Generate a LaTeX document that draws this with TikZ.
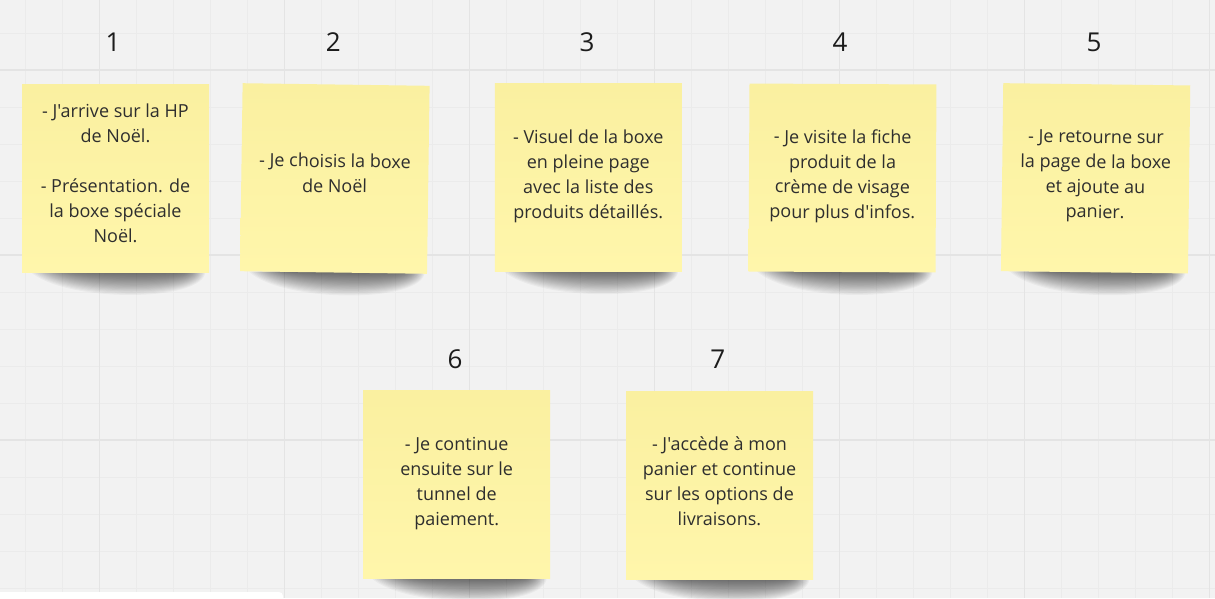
\documentclass[tikz,border=0pt]{standalone}
\usepackage{fontspec}
\setmainfont{Open Sans}[Ligatures=TeXOff]
\definecolor{bg}{HTML}{F2F2F2}
\definecolor{gridminor}{HTML}{EBEBEB}
\definecolor{gridmajor}{HTML}{E4E4E4}
\definecolor{sticky}{HTML}{FFF6AB}
\definecolor{stickytop}{HTML}{FAF0A0}
\definecolor{ink}{HTML}{2E2E2E}
\definecolor{numink}{HTML}{1C1C1C}
\newcommand\noteshadow[2]{% center x, center y of the note
  \foreach \k in {0,...,19}{
    \fill[black,opacity=0.035]
      ({#1-86+1.9*\k},{#2+93}) -- ({#1+90-1.1*\k},{#2+93})
      .. controls ({#1+90-1.1*\k},{#2+93+1.33*(24-1.15*\k)}) and ({#1-52+1.9*\k},{#2+93+1.33*(24-1.15*\k)}) ..
      cycle;
  }}
\tikzset{
  note/.style={shape=rectangle, inner sep=0pt, minimum width=187pt, minimum height=188pt,
    top color=stickytop, middle color=sticky, bottom color=sticky, draw=none},
  notetext/.style={align=center, text=ink, inner sep=0pt, font=\fontsize{18}{25}\selectfont},
  numlabel/.style={text=numink, font=\fontsize{26}{30}\selectfont, inner sep=0pt},
}
\begin{document}
\begin{tikzpicture}[x=1pt,y=-1pt]
\useasboundingbox (0,0) rectangle (1215,598);
\fill[bg] (0,0) rectangle (1215,598);
% grid
\foreach \i in {0,...,32}{
  \draw[gridminor,line width=1pt] ({25.3+37*\i},0) -- ({25.3+37*\i},598);
}
\foreach \i in {0,...,15}{
  \draw[gridminor,line width=1pt] (0,{33+37*\i}) -- (1215,{33+37*\i});
}
\foreach \x in {99.3,284.3,469.3,654.3,839.3,1024.3,1209.3}{
  \draw[gridmajor,line width=1.3pt] (\x,0) -- (\x,598);
}
\foreach \y in {70,255,440}{
  \draw[gridmajor,line width=1.3pt] (0,\y) -- (1215,\y);
}
% white panel bottom left
\fill[white,rounded corners=4pt] (-5,592) rectangle (283,610);
% shadows
\noteshadow{115.5}{178}
\noteshadow{334.8}{178.5}
\noteshadow{588.3}{177.2}
\noteshadow{842.5}{178}
\noteshadow{1095.6}{178.3}
\noteshadow{456.7}{484.5}
\noteshadow{719.5}{485.3}
% notes
\node[note] (n1) at (115.5,178) {};
\node[note,rotate=-0.8] (n2) at (334.8,178.5) {};
\node[note] (n3) at (588.3,177.2) {};
\node[note,rotate=-0.3] (n4) at (842.5,178) {};
\node[note,rotate=-0.7] (n5) at (1095.6,178.3) {};
\node[note] (n6) at (456.7,484.5) {};
\node[note] (n7) at (719.5,485.3) {};
% note texts
\node[notetext] (t1) at (115.5,174.5) {\strut- J'arrive sur la HP\\\strut de Noël.\\\strut\\\strut- Présentation. de\\\strut la boxe spéciale\\\strut Noël.};
\node[notetext,rotate=-0.8] (t2) at (334.8,175) {\strut- Je choisis la boxe\\\strut de Noël};
\node[notetext] (t3) at (588.3,175.5) {\strut- Visuel de la boxe\\\strut en pleine page\\\strut avec la liste des\\\strut produits détaillés.};
\node[notetext,rotate=-0.3] (t4) at (842.5,175.8) {\strut- Je visite la fiche\\\strut produit de la\\\strut crème de visage\\\strut pour plus d'infos.};
\node[notetext,rotate=-0.7] (t5) at (1095.6,175.6) {\strut- Je retourne sur\\\strut la page de la boxe\\\strut et ajoute au\\\strut panier.};
\node[notetext] (t6) at (456.7,483) {\strut- Je continue\\\strut ensuite sur le\\\strut tunnel de\\\strut paiement.};
\node[notetext] (t7) at (719.5,483) {\strut- J'accède à mon\\\strut panier et continue\\\strut sur les options de\\\strut livraisons.};
% numbers
\node[numlabel] (l1) at (113,42) {1};
\node[numlabel] (l2) at (333.3,42) {2};
\node[numlabel] (l3) at (587,42) {3};
\node[numlabel] (l4) at (840,42) {4};
\node[numlabel] (l5) at (1094,42) {5};
\node[numlabel] (l6) at (455,359) {6};
\node[numlabel] (l7) at (717.7,359) {7};
\end{tikzpicture}
\end{document}
